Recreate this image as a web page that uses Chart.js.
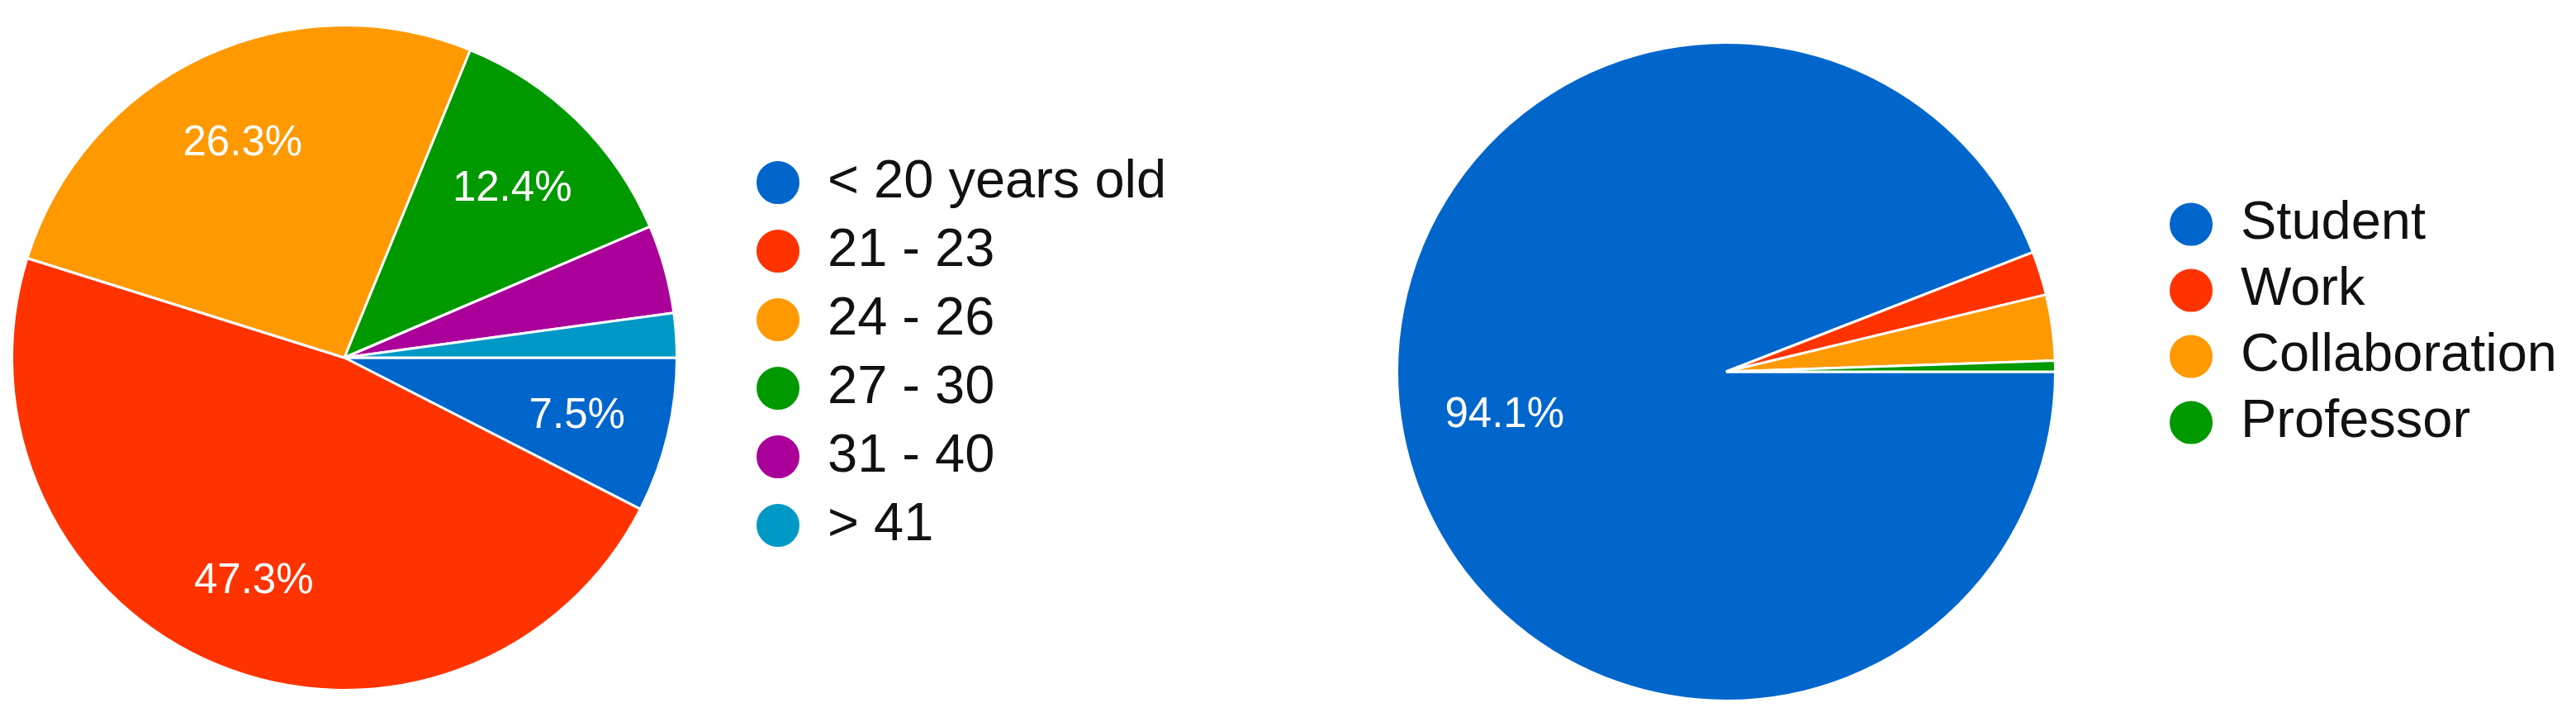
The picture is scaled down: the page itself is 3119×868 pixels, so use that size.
<!DOCTYPE html>
<html>
<head>
<meta charset="utf-8">
<script src="https://cdn.jsdelivr.net/npm/chart.js@4.4.1/dist/chart.umd.min.js"></script>
<style>
  html, body { margin: 0; padding: 0; background: #ffffff; }
  #wrap { position: relative; width: 3119px; height: 868px; background: #ffffff; overflow: hidden; }
  canvas { position: absolute; top: 0; }
</style>
</head>
<body>
<div id="wrap">
  <canvas id="ageChart" width="1560" height="868" style="left:0px"></canvas>
  <canvas id="roleChart" width="1559" height="868" style="left:1560px"></canvas>
</div>
<script>
// ---- data (respondent counts) ----
const ageLabels = ["< 20 years old", "21 - 23", "24 - 26", "27 - 30", "31 - 40", "> 41"];
const ageCounts = [14, 88, 49, 23, 8, 4];
const ageColors = ["#0066CC", "#FF3300", "#FF9900", "#009900", "#AA0099", "#0099C6"];

const roleLabels = ["Student", "Work", "Collaboration", "Professor"];
const roleCounts = [175, 4, 6, 1];
const roleColors = ["#0066CC", "#FF3300", "#FF9900", "#009900"];

const FONT = "'Liberation Sans', Arial, Helvetica, sans-serif";

// Places the pie area and legend box where the reference has them
const placement = {
  id: 'placement',
  afterLayout(chart, args, opts) {
    const s = opts.areaHalf;
    chart.chartArea = {
      left: opts.cx - s, top: opts.cy - s, right: opts.cx + s, bottom: opts.cy + s,
      width: 2 * s, height: 2 * s
    };
    const lg = chart.legend;
    if (lg) {
      const w = lg.width;
      lg.left = opts.legendLeft;
      lg.right = opts.legendLeft + w;
      lg.top = opts.legendTop;
      lg.bottom = chart.height;
      lg.height = lg.bottom - lg.top;
    }
  }
};

// Percentage labels inside the bigger slices
const sliceLabels = {
  id: 'sliceLabels',
  afterDatasetsDraw(chart, args, opts) {
    const ctx = chart.ctx;
    const ds = chart.data.datasets[0];
    const total = ds.data.reduce((a, b) => a + b, 0);
    const meta = chart.getDatasetMeta(0);
    ctx.save();
    ctx.fillStyle = '#ffffff';
    ctx.font = opts.size + 'px ' + FONT;
    ctx.textAlign = 'center';
    ctx.textBaseline = 'middle';
    meta.data.forEach((arc, i) => {
      const frac = ds.data[i] / total;
      if (frac < opts.minFrac) return;
      const p = arc.getProps(['x', 'y', 'startAngle', 'endAngle', 'outerRadius'], true);
      const mid = (p.startAngle + p.endAngle) / 2;
      const r = p.outerRadius * opts.radiusFrac;
      ctx.fillText((frac * 100).toFixed(1) + '%', p.x + Math.cos(mid) * r, p.y + Math.sin(mid) * r + opts.dy);
    });
    ctx.restore();
  }
};

function makePie(id, labels, values, colors, cfg) {
  return new Chart(document.getElementById(id), {
    type: 'pie',
    data: {
      labels: labels,
      datasets: [{
        data: values,
        backgroundColor: colors,
        borderColor: '#ffffff',
        borderWidth: 3,
        hoverOffset: 0
      }]
    },
    options: {
      responsive: false,
      animation: false,
      rotation: 90,
      radius: cfg.radius,
      layout: { padding: 0 },
      plugins: {
        tooltip: { enabled: false },
        legend: {
          display: true,
          position: 'right',
          align: 'start',
          labels: {
            usePointStyle: true,
            pointStyle: 'circle',
            boxHeight: 39,
            pointStyleWidth: 55,
            padding: cfg.legendPadding,
            color: '#111111',
            font: { family: FONT, size: 65 }
          }
        },
        placement: {
          cx: cfg.cx, cy: cfg.cy, areaHalf: cfg.radius + 8,
          legendLeft: cfg.legendLeft, legendTop: cfg.legendTop
        },
        sliceLabels: { size: 51, minFrac: 0.05, radiusFrac: cfg.labelFrac, dy: 3 }
      }
    },
    plugins: [placement, sliceLabels]
  });
}

makePie('ageChart', ageLabels, ageCounts, ageColors, {
  cx: 417, cy: 433, radius: 402.5,
  legendPadding: 18, legendLeft: 896.5, legendTop: 170.5,
  labelFrac: 0.72
});

makePie('roleChart', roleLabels, roleCounts, roleColors, {
  cx: 530, cy: 450, radius: 398.5,
  legendPadding: 15, legendLeft: 1050.5, legendTop: 224,
  labelFrac: 0.685
});
</script>
</body>
</html>
